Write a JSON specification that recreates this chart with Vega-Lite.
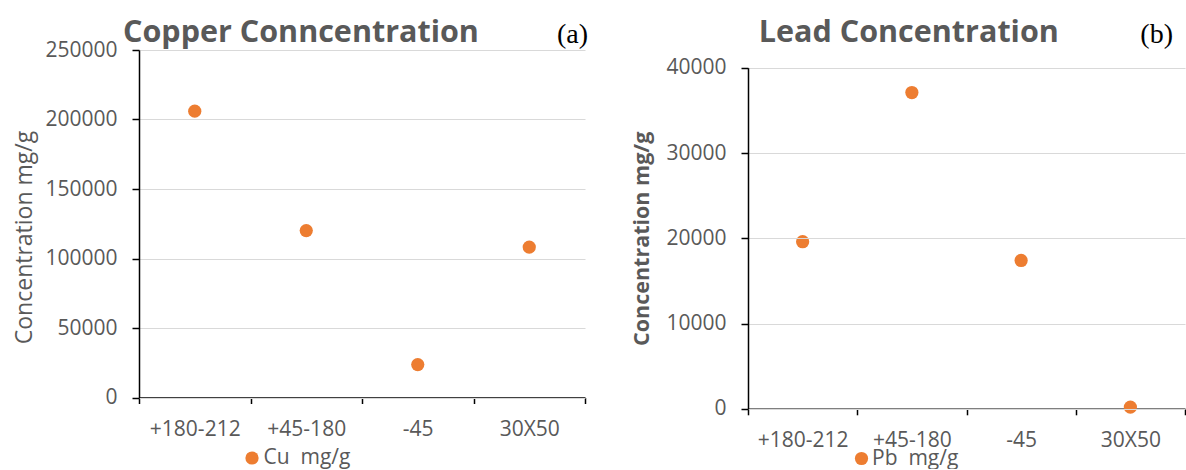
{
  "$schema": "https://vega.github.io/schema/vega-lite/v6.json",
  "background": "white",
  "padding": {"left": 13, "top": 17, "right": 0, "bottom": 0},
  "autosize": {"type": "pad"},
  "datasets": {
    "copper": [
      {"fraction": "+180-212", "value": 206000, "series": "Cu\u00a0 mg/g"},
      {"fraction": "+45-180", "value": 120100, "series": "Cu\u00a0 mg/g"},
      {"fraction": "-45", "value": 23700, "series": "Cu\u00a0 mg/g"},
      {"fraction": "30X50", "value": 108200, "series": "Cu\u00a0 mg/g"}
    ],
    "lead": [
      {"fraction": "+180-212", "value": 19600, "series": "Pb\u00a0 mg/g"},
      {"fraction": "+45-180", "value": 37100, "series": "Pb\u00a0 mg/g"},
      {"fraction": "-45", "value": 17400, "series": "Pb\u00a0 mg/g"},
      {"fraction": "30X50", "value": 200, "series": "Pb\u00a0 mg/g"}
    ]
  },
  "spacing": 43,
  "resolve": {"scale": {"color": "independent", "x": "independent", "y": "independent"}, "legend": {"color": "independent"}},
  "hconcat": [
    {
      "width": 446,
      "height": 347.5,
      "title": {"text": "Copper Conncentration", "frame": "bounds", "anchor": "middle", "fontSize": 30.5, "fontWeight": "bold", "color": "#595959", "font": "Open Sans", "offset": -27},
      "layer": [
        {
          "data": {"name": "copper"},
          "mark": {"type": "circle", "size": 175, "opacity": 1},
          "encoding": {
            "x": {"field": "fraction", "type": "nominal", "sort": null,
                  "scale": {"type": "band", "paddingInner": 0, "paddingOuter": 0},
                  "axis": {"title": null}},
            "y": {"field": "value", "type": "quantitative",
                  "scale": {"domain": [0, 250000], "nice": false},
                  "axis": {"values": [0, 50000, 100000, 150000, 200000, 250000], "format": "d",
                           "zindex": 1,
                           "domain": true, "domainColor": "#000000", "domainWidth": 1.5,
                           "ticks": true, "tickColor": "#000000", "tickSize": 7, "tickWidth": 1.5,
                           "title": "Concentration mg/g", "titleFontSize": 23, "titleFontWeight": "normal",
                           "titlePadding": 8, "titleY": 187}},
            "color": {"field": "series", "type": "nominal",
                      "scale": {"range": ["#ED7D31"]},
                      "legend": {"orient": "none", "legendX": 102.5, "legendY": 397.5, "title": null,
                                 "symbolType": "circle", "symbolSize": 175, "symbolStrokeWidth": 0,
                                 "labelFontSize": 21, "labelColor": "#595959", "labelOffset": 1,
                                 "padding": 0, "direction": "horizontal"}}
          }
        },
        {
          "data": {"values": [{"tag": "(a)"}]},
          "mark": {"type": "text", "font": "Liberation Serif", "fontSize": 28, "align": "right", "baseline": "alphabetic", "color": "#000000", "dx": 3, "dy": -7},
          "encoding": {"text": {"field": "tag"}, "x": {"value": "width"}, "y": {"value": 0}}
        }
      ]
    },
    {
      "width": 437,
      "height": 358.8,
      "title": {"text": "Lead Concentration", "frame": "bounds", "anchor": "middle", "fontSize": 30.5, "fontWeight": "bold", "color": "#595959", "font": "Open Sans", "offset": -27},
      "layer": [
        {
          "data": {"name": "lead"},
          "mark": {"type": "circle", "size": 175, "opacity": 1},
          "encoding": {
            "x": {"field": "fraction", "type": "nominal", "sort": null,
                  "scale": {"type": "band", "paddingInner": 0, "paddingOuter": 0},
                  "axis": {"title": null}},
            "y": {"field": "value", "type": "quantitative",
                  "scale": {"domain": [0, 40000], "nice": false, "range": [358.8, 17.8]},
                  "axis": {"values": [0, 10000, 20000, 30000, 40000], "format": "d",
                           "zindex": 1,
                           "domain": true, "domainColor": "#000000", "domainWidth": 1.5,
                           "ticks": true, "tickColor": "#000000", "tickSize": 7, "tickWidth": 1.5,
                           "title": "Concentration mg/g", "titleFontSize": 21.5, "titleFontWeight": "bold",
                           "titlePadding": 12}},
            "color": {"field": "series", "type": "nominal",
                      "scale": {"range": ["#ED7D31"]},
                      "legend": {"orient": "none", "legendX": 103, "legendY": 398, "title": null,
                                 "symbolType": "circle", "symbolSize": 175, "symbolStrokeWidth": 0,
                                 "labelFontSize": 21, "labelColor": "#595959", "labelOffset": 0,
                                 "padding": 0, "direction": "horizontal"}}
          }
        },
        {
          "data": {"values": [{"tag": "(b)"}]},
          "mark": {"type": "text", "font": "Liberation Serif", "fontSize": 28, "align": "right", "baseline": "alphabetic", "color": "#000000", "dx": -12, "dy": -7},
          "encoding": {"text": {"field": "tag"}, "x": {"value": "width"}, "y": {"value": 0}}
        }
      ]
    }
  ],
  "config": {
    "font": "Open Sans",
    "view": {"stroke": null},
    "axis": {
      "labelFont": "Open Sans", "labelColor": "#595959", "labelFontSize": 21,
      "titleFont": "Open Sans", "titleColor": "#595959",
      "domainColor": "#000000", "domainWidth": 1.5,
      "tickColor": "#000000", "tickWidth": 1.5,
      "gridColor": "#D9D9D9", "gridWidth": 1
    },
    "axisX": {"grid": false, "domain": true, "ticks": true, "tickSize": 6, "labelPadding": 15, "labelAngle": 0, "tickBand": "extent"},
    "axisY": {"grid": true, "domain": true, "ticks": true, "tickSize": 7, "labelPadding": 15},
    "legend": {"labelFont": "Open Sans"}
  }
}
